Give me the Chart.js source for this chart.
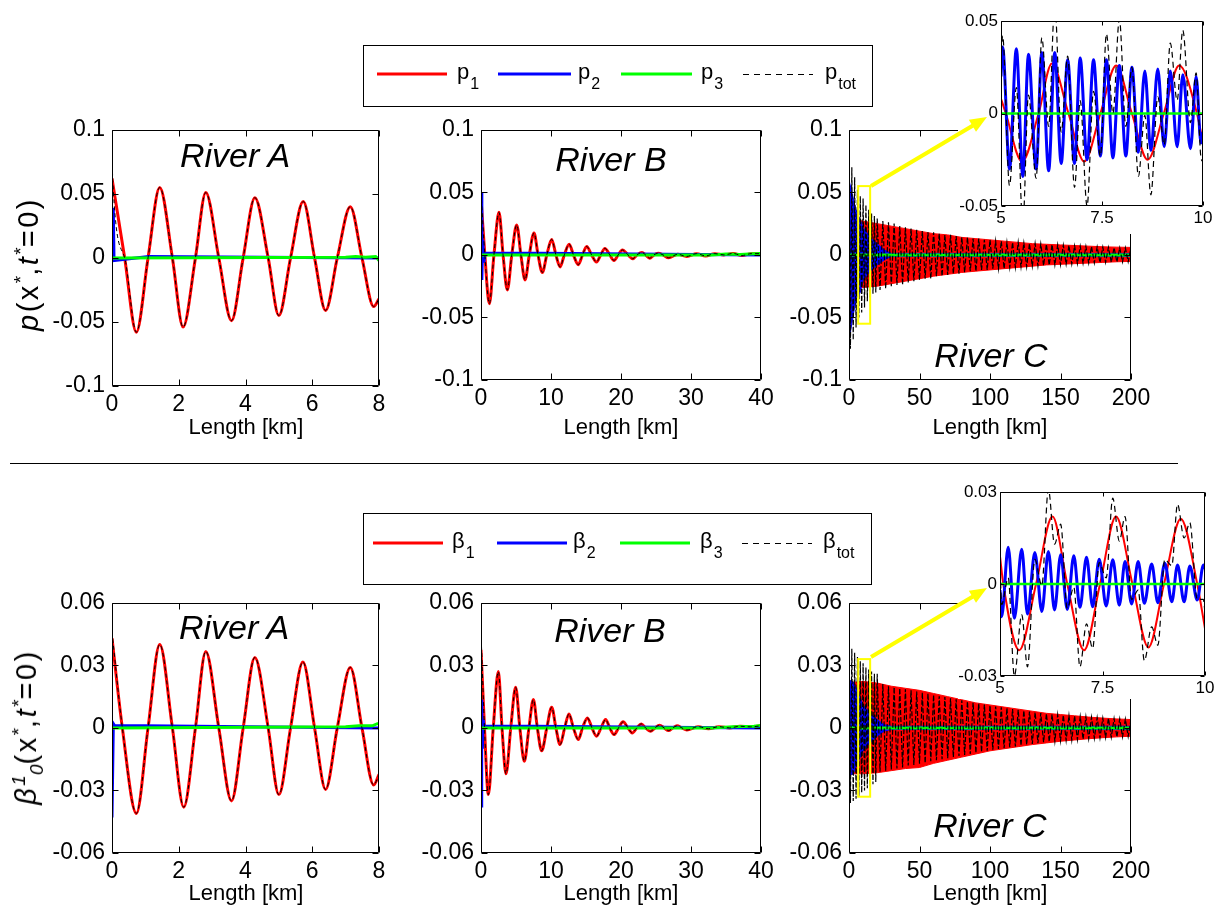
<!DOCTYPE html>
<html><head><meta charset="utf-8">
<script src="https://cdn.jsdelivr.net/npm/chart.js@4.4.1/dist/chart.umd.min.js"></script>
<style>
body{margin:0;background:#fff;}
#fig{position:relative;width:1223px;height:923px;overflow:hidden;background:#fff;font-family:'Liberation Sans',Arial,Helvetica,sans-serif;color:#000}
canvas{position:absolute}
.lab{position:absolute;transform:translate(-50%,-50%);white-space:nowrap;font-size:22px;line-height:22px;z-index:5}
.river{position:absolute;transform:translate(-50%,-50%);white-space:nowrap;font-size:34px;font-style:italic;line-height:34px;z-index:5}
.ytitle{position:absolute;transform:translate(-50%,-50%) rotate(-90deg);white-space:nowrap;font-size:29px;letter-spacing:2.5px;line-height:29px;z-index:5}
.ytitle .sup{position:relative;top:-11px;font-size:19px;letter-spacing:0}
.ytitle .sub{position:relative;top:7px;font-size:19px;letter-spacing:0}
.leg{position:absolute;font-size:22px;line-height:22px;white-space:nowrap;z-index:11}
.leg span{position:relative;font-size:16px;top:10px;margin-left:1px}
</style></head>
<body>
<div id="fig">
  <div class="ytitle" style="left:30px;top:264px"><i>p</i>(x<span class="sup">*</span>,<i>t</i><span class="sup">*</span>=0)</div>
  <div class="ytitle" style="left:28px;top:727px"><i>β</i><span class="sup"><i>1</i></span><span class="sub"><i>0</i></span>(x<span class="sup">*</span>,<i>t</i><span class="sup">*</span>=0)</div>

  <div class="lab" style="left:246px;top:427px">Length [km]</div>
  <div class="lab" style="left:621px;top:427px">Length [km]</div>
  <div class="lab" style="left:990px;top:427px">Length [km]</div>
  <div class="lab" style="left:246px;top:893px">Length [km]</div>
  <div class="lab" style="left:621px;top:893px">Length [km]</div>
  <div class="lab" style="left:990px;top:893px">Length [km]</div>

  <div class="river" style="left:235px;top:155px">River A</div>
  <div class="river" style="left:611px;top:159px">River B</div>
  <div class="river" style="left:991px;top:355px">River C</div>
  <div class="river" style="left:234px;top:627px">River A</div>
  <div class="river" style="left:610px;top:630px">River B</div>
  <div class="river" style="left:990px;top:825px">River C</div>

  <div class="leg" style="left:457px;top:61px">p<span>1</span></div>
  <div class="leg" style="left:578px;top:61px">p<span>2</span></div>
  <div class="leg" style="left:701px;top:61px">p<span>3</span></div>
  <div class="leg" style="left:825px;top:61px">p<span>tot</span></div>
  <div class="leg" style="left:452px;top:530px">β<span>1</span></div>
  <div class="leg" style="left:573px;top:530px">β<span>2</span></div>
  <div class="leg" style="left:700px;top:530px">β<span>3</span></div>
  <div class="leg" style="left:823px;top:530px">β<span>tot</span></div>

  <svg width="1223" height="923" style="position:absolute;left:0;top:0;z-index:10;pointer-events:none">
    <line x1="10" y1="463.5" x2="1178" y2="463.5" stroke="#000" stroke-width="1"/>
    <rect x="363.5" y="45.5" width="509" height="61" fill="none" stroke="#000" stroke-width="1"/>
    <line x1="377" y1="74" x2="447" y2="74" stroke="#ff0000" stroke-width="3"/>
    <line x1="498" y1="74" x2="571" y2="74" stroke="#0000ff" stroke-width="3"/>
    <line x1="621" y1="74" x2="692" y2="74" stroke="#00ff00" stroke-width="3"/>
    <line x1="743" y1="74.5" x2="813" y2="74.5" stroke="#000" stroke-width="1" stroke-dasharray="6,5"/>
    <rect x="363.5" y="513.5" width="508" height="71" fill="none" stroke="#000" stroke-width="1"/>
    <line x1="373" y1="543" x2="443" y2="543" stroke="#ff0000" stroke-width="3"/>
    <line x1="497" y1="543" x2="567" y2="543" stroke="#0000ff" stroke-width="3"/>
    <line x1="620" y1="543" x2="690" y2="543" stroke="#00ff00" stroke-width="3"/>
    <line x1="742" y1="543.5" x2="812" y2="543.5" stroke="#000" stroke-width="1" stroke-dasharray="6,5"/>
    <line x1="871" y1="186" x2="973" y2="125.5" stroke="#ffff00" stroke-width="4"/>
    <polygon points="987,117 976,131.7 968.8,119.7" fill="#ffff00"/>
    <line x1="871" y1="657" x2="973" y2="596.5" stroke="#ffff00" stroke-width="4"/>
    <polygon points="987,588 976,602.7 968.8,590.7" fill="#ffff00"/>
  </svg>
</div>
<script>
// ================= DATA =================
// tick values / labels
const yTicksP = [-0.1, -0.05, 0, 0.05, 0.1];
const yLabelsP = ['-0.1', '-0.05', '0', '0.05', '0.1'];
const yTicksB = [-0.06, -0.03, 0, 0.03, 0.06];
const yLabelsB = ['-0.06', '-0.03', '0', '0.03', '0.06'];
const xTicksA = [0, 2, 4, 6, 8];
const xTicksB = [0, 10, 20, 30, 40];
const xTicksC = [0, 50, 100, 150, 200];
const xTicksZoom = [5, 7.5, 10];
const yTicksZoomP = [-0.05, 0, 0.05];
const yLabelsZoomP = ['-0.05', '0', '0.05'];
const yTicksZoomB = [-0.03, 0, 0.03];
const yLabelsZoomB = ['-0.03', '0', '0.03'];

// ---- p : River A ----
const kmA = [0,0.38,0.73,1.08,1.43,1.81,2.13,2.5,2.81,3.2,3.58,3.93,4.28,4.68,5.0,5.35,5.73,6.07,6.4,6.75,7.14,7.49,7.84,8.0];
const p1A = [0.062,0,-0.058,0,0.055,0,-0.054,0,0.051,0,-0.049,0,0.047,0,-0.045,0,0.044,0,-0.041,0,0.040,0,-0.038,-0.032];
const kmAtot = [0,0.02,0.38,0.73,1.08,1.43,1.81,2.13,2.5,2.81,3.2,3.58,3.93,4.28,4.68,5.0,5.35,5.73,6.07,6.4,6.75,7.14,7.49,7.84,8.0];
const ptotA = [0.095,0.062,0,-0.058,0,0.055,0,-0.054,0,0.051,0,-0.049,0,0.047,0,-0.045,0,0.044,0,-0.041,0,0.040,0,-0.038,-0.032];
const kmA2 = [0,0.04,0.06,1.1,8];
const p2A = [0.038,0.038,-0.002,0.001,0];
const kmA3 = [0,7.0,7.3,7.6,7.9,8.0];
const p3A = [0,0.0005,0.001,0.0005,0.001,-0.002];

// ---- p : River B ----
const kmB = [0,0.55,1.19,1.85,2.57,3.15,3.76,4.4,5.1,5.7,6.29,6.9,7.57,8.15,8.76,9.4,10.1,10.7,11.3,11.9,12.6,13.2,13.9,14.5,15.1,15.8,16.5,17.1,17.7,18.4,19.0,19.6,20.2,21.0,21.7,22.3,23.0,23.5,24.1,24.7,25.3,26.0,26.8,28.1,29.4,30.8,32.1,33.4,34.7,36.0,37.3,38.6,40];
const p1B = [0.045,0,-0.039,0,0.034,0,-0.028,0,0.024,0,-0.020,0,0.0176,0,-0.014,0,0.0124,0,-0.0096,0,0.0085,0,-0.0078,0,0.0067,0,-0.0057,0,0.0052,0,-0.0044,0,0.0039,0,-0.0031,0,0.002,0,-0.0026,0,0.0013,0,-0.0023,0.0005,-0.0012,0.001,-0.0008,0.001,0,0.0012,-0.0005,0.001,0.001];
const ptotB = [0.05,0,-0.039,0,0.034,0,-0.028,0,0.024,0,-0.020,0,0.0176,0,-0.014,0,0.0124,0,-0.0096,0,0.0085,0,-0.0078,0,0.0067,0,-0.0057,0,0.0052,0,-0.0044,0,0.0039,0,-0.0031,0,0.002,0,-0.0026,0,0.0013,0,-0.0023,0.0005,-0.0012,0.001,-0.0008,0.001,0,0.0012,-0.0005,0.001,0.001];
const kmB2 = [0,0.12,0.25,0.4,0.6,8.5,40];
const p2B = [0.05,-0.02,0.012,-0.006,0.0013,0.0013,0];
const kmB3 = [0,33,35,37,39,40];
const p3B = [0,0,0.0008,0.0004,0.001,0.0012];

// ---- p : River C (envelopes of the dense oscillation) ----
const kmCenv = [0,5,10,20,30,40,50,60,70,80,90,100,110,120,130,140,150,160,170,180,190,200];
const p1C_hi = [0.028,0.028,0.027,0.025,0.023,0.021,0.019,0.017,0.016,0.014,0.013,0.012,0.011,0.010,0.009,0.0085,0.008,0.0075,0.007,0.0065,0.0062,0.006];
const p1C_lo = [-0.027,-0.027,-0.026,-0.025,-0.023,-0.021,-0.019,-0.017,-0.0155,-0.014,-0.013,-0.012,-0.011,-0.010,-0.009,-0.008,-0.0075,-0.007,-0.0065,-0.006,-0.0055,-0.0052];
const kmCblue = [0,2,5,8,10,15,20,25,30,200];
const p2C_hi = [0.06,0.05,0.036,0.028,0.022,0.014,0.009,0.004,0.0012,0.0012];
const p2C_lo = [-0.068,-0.055,-0.035,-0.03,-0.02,-0.013,-0.008,-0.004,-0.0012,-0.0012];
const kmC3 = [0,200];
const p3C = [0,0];
const kmCtot = [0,1,2,3,4,5,6,7,8,9,10,11,12,13,14,15,16,17,18,19,20,22,24,26,28,30,32,34,36,38,40,42,44,46,48,50,52,54,56,58,60,62,64,66,68,70,72,74,76,78,80,82,84,86,88,90,92,94,96,98,100,102,104,106,108,110,112,114,116,118,120,122,124,126,128,130,132,134,136,138,140,142,144,146,148,150,152,154,156,158,160,162,164,166,168,170,172,174,176,178,180,182,184,186,188,190,192,194,196,198,200];
const ptotC = [0.083,-0.075,0.07,-0.068,0.062,-0.058,0.052,-0.05,0.047,-0.046,0.045,-0.042,0.04,-0.037,0.036,-0.034,0.033,-0.031,0.031,-0.03,0.029,
  -0.028,0.027,-0.027,0.026,-0.025,0.025,-0.024,0.023,-0.024,0.022,
  -0.022,0.021,-0.021,0.02,-0.02,0.019,-0.019,0.018,-0.019,0.018,
  -0.017,0.017,-0.017,0.016,-0.016,0.016,-0.015,0.015,-0.015,0.014,
  -0.014,0.014,-0.013,0.013,-0.013,0.013,-0.012,0.012,-0.012,0.012,
  -0.011,0.011,-0.011,0.011,-0.011,0.010,-0.010,0.010,-0.010,0.010,
  -0.0095,0.0095,-0.0095,0.009,-0.009,0.009,-0.0088,0.0088,-0.0085,0.0085,
  -0.0082,0.0082,-0.008,0.008,-0.0078,0.0078,-0.0075,0.0075,-0.0073,0.0073,
  -0.007,0.007,-0.0068,0.0068,-0.0066,0.0066,-0.0064,0.0064,-0.0062,0.0062,
  -0.006,0.006,-0.0058,0.0058,-0.0057,0.0057,-0.0056,0.0056,-0.0055,0.0055];

// ---- p : zoom 5-10 km of River C ----
const kmZp1 = [5.0,5.12,5.52,5.93,6.26,6.67,7.06,7.46,7.85,8.24,8.63,9.03,9.41,9.85,10.0];
const p1Z = [0.008,0,-0.026,0,0.027,0,-0.026,0,0.026,0,-0.025,0,0.026,0,-0.016];
const kmZp2 = [5.0,5.04,5.21,5.38,5.54,5.68,5.87,6.01,6.18,6.33,6.49,6.65,6.82,6.96,7.13,7.29,7.46,7.61,7.77,7.93,8.09,8.24,8.40,8.56,8.71,8.88,9.04,9.19,9.36,9.50,9.69,9.83,9.95,10.0];
const p2Z = [0.02,0.036,-0.030,0.035,-0.034,0.032,-0.030,0.033,-0.031,0.033,-0.027,0.029,-0.027,0.030,-0.025,0.029,-0.023,0.029,-0.024,0.026,-0.023,0.025,-0.021,0.023,-0.020,0.024,-0.018,0.023,-0.018,0.021,-0.019,0.020,-0.016,-0.01];
const ptotZ = [0.028,0.042,-0.039,0.014,-0.060,0.010,-0.035,0.041,-0.007,0.059,-0.010,0.031,-0.040,0.007,-0.050,0.012,-0.023,0.043,0.000,0.051,-0.007,0.025,-0.034,-0.001,-0.044,0.009,-0.017,0.038,0.007,0.045,-0.005,0.022,-0.024,-0.026];
const kmZ3 = [5,10];
const p3Z = [0,0];

// ---- beta : River A ----
const kmbA = [0,0.31,0.73,1.08,1.43,1.81,2.15,2.5,2.81,3.2,3.58,3.93,4.28,4.68,5.0,5.35,5.72,6.07,6.4,6.75,7.14,7.49,7.84,8.0];
const b1A = [0.043,0,-0.041,0,0.040,0,-0.038,0,0.0367,0,-0.035,0,0.0338,0,-0.032,0,0.0316,0,-0.0295,0,0.029,0,-0.0274,-0.0223];
const kmbAtot = [0,0.02,0.31,0.73,1.08,1.43,1.81,2.15,2.5,2.81,3.2,3.58,3.93,4.28,4.68,5.0,5.35,5.72,6.07,6.4,6.75,7.14,7.49,7.84,8.0];
const btotA = [0.046,0.043,0,-0.041,0,0.040,0,-0.038,0,0.0367,0,-0.035,0,0.0338,0,-0.032,0,0.0316,0,-0.0295,0,0.029,0,-0.0274,-0.0223];
const kmbA2 = [0,0.04,0.08,0.98,8];
const b2A = [-0.043,0.002,0.001,0.001,0];
const kmbA3 = [0,7.0,7.4,7.8,7.95,8];
const b3A = [0,0.0005,0.001,0.001,0.002,0.002];

// ---- beta : River B ----
const kmbB = [0,0.5,1.05,1.75,2.48,3.0,3.57,4.25,4.95,5.55,6.19,6.85,7.48,8.05,8.67,9.4,10.1,10.7,11.3,11.95,12.57,13.2,13.9,14.5,15.2,15.85,16.5,17.15,17.8,18.4,19.0,19.65,20.3,21.0,21.6,22.25,22.9,23.5,24.2,24.85,25.5,26.15,26.8,27.4,28.0,28.7,29.4,31,32.5,34,35.5,37,38.5,40];
const b1B = [0.0375,0,-0.032,0,0.027,0,-0.022,0,0.0195,0,-0.016,0,0.0136,0,-0.011,0,0.0099,0,-0.008,0,0.0067,0,-0.0056,0,0.0048,0,-0.004,0,0.004,0,-0.0032,0,0.0029,0,-0.0024,0,0.0019,0,-0.0016,0,0.0013,0,-0.0013,0,0.001,0,-0.001,0.0006,-0.0004,0.0006,0,0.0008,0.0005,0.001];
const btotB = [0.046,0,-0.032,0,0.027,0,-0.022,0,0.0195,0,-0.016,0,0.0136,0,-0.011,0,0.0099,0,-0.008,0,0.0067,0,-0.0056,0,0.0048,0,-0.004,0,0.004,0,-0.0032,0,0.0029,0,-0.0024,0,0.0019,0,-0.0016,0,0.0013,0,-0.0013,0,0.001,0,-0.001,0.0006,-0.0004,0.0006,0,0.0008,0.0005,0.001];
const kmbB2 = [0,0.1,0.2,0.3,0.45,7.5,40];
const b2B = [-0.0375,0.0136,-0.01,0.004,0.0008,0.0008,0];
const kmbB3 = [0,33,36,39,40];
const b3B = [0,0,0.0006,0.0008,0.0012];

// ---- beta : River C ----
const b1C_hi = [0.022,0.022,0.0223,0.0215,0.020,0.019,0.018,0.0165,0.015,0.0135,0.012,0.011,0.010,0.009,0.008,0.007,0.0064,0.0058,0.0052,0.0047,0.0043,0.004];
const b1C_lo = [-0.022,-0.022,-0.022,-0.0215,-0.0205,-0.0195,-0.019,-0.017,-0.0155,-0.014,-0.0125,-0.011,-0.010,-0.009,-0.008,-0.0072,-0.0064,-0.0058,-0.0052,-0.0047,-0.0043,-0.004];
const kmbCblue = [0,3,6,10,15,20,25,30,200];
const b2C_hi = [0.023,0.022,0.018,0.011,0.007,0.004,0.0015,0.0008,0.0008];
const b2C_lo = [-0.023,-0.022,-0.017,-0.011,-0.007,-0.004,-0.0015,-0.0008,-0.0008];
const b3C = [0,0];
const btotC = [0.04,-0.036,0.038,-0.035,0.036,-0.034,0.034,-0.033,0.032,-0.031,0.031,-0.03,0.029,-0.029,0.028,-0.028,0.027,-0.027,0.026,-0.026,0.026,
  -0.021,0.021,-0.0205,0.020,-0.020,0.0195,-0.0195,0.019,-0.019,0.0185,
  -0.018,0.018,-0.0178,0.0175,-0.0172,0.017,-0.0168,0.0165,-0.016,0.0158,
  -0.0155,0.0152,-0.015,0.0148,-0.0145,0.0142,-0.014,0.0137,-0.0135,0.0132,
  -0.013,0.0127,-0.0125,0.0122,-0.012,0.0117,-0.0115,0.0112,-0.011,0.0107,
  -0.0105,0.0103,-0.0101,0.0099,-0.0097,0.0095,-0.0093,0.0091,-0.0089,0.0087,
  -0.0085,0.0083,-0.0081,0.0079,-0.0077,0.0075,-0.0073,0.0071,-0.0069,0.0068,
  -0.0066,0.0065,-0.0064,0.0063,-0.0062,0.0061,-0.006,0.0059,-0.0058,0.0057,
  -0.0056,0.0055,-0.0054,0.0053,-0.0052,0.0051,-0.005,0.0049,-0.0048,0.0047,
  -0.0046,0.0046,-0.0045,0.0045,-0.0044,0.0043,-0.0043,0.0042,-0.0041,0.0040];

// ---- beta : zoom 5-10 km of River C ----
const kmZb1 = [5.0,5.08,5.47,5.88,6.28,6.64,7.05,7.44,7.83,8.23,8.62,9.0,9.41,9.81,10.0];
const b1Z = [0.009,0,-0.0216,0,0.022,0,-0.0216,0,0.022,0,-0.0207,0,0.0213,0,-0.0145];
const kmZb2 = [5.0,5.04,5.20,5.35,5.53,5.67,5.85,6.02,6.18,6.33,6.48,6.64,6.80,6.95,7.11,7.26,7.42,7.59,7.75,7.91,8.05,8.21,8.37,8.52,8.70,8.85,9.02,9.19,9.33,9.49,9.63,9.81,9.96,10.0];
const b2Z = [-0.002,-0.0107,0.012,-0.0112,0.0113,-0.0098,0.0103,-0.009,0.0106,-0.0085,0.0095,-0.0083,0.0092,-0.0076,0.0087,-0.0074,0.0081,-0.0072,0.0079,-0.0069,0.0073,-0.0065,0.0073,-0.0063,0.0065,-0.0061,0.0068,-0.0058,0.0062,-0.0058,0.0059,-0.0052,0.0062,0.005];
const btotZ = [0.007,-0.0067,0.002,-0.030,-0.010,-0.027,0.008,-0.0005,0.031,0.013,0.0195,-0.008,-0.001,-0.027,-0.013,-0.021,0.007,0.002,0.028,0.014,0.022,-0.005,-0.002,-0.025,-0.014,-0.020,0.008,0.006,0.026,0.015,0.020,-0.005,-0.005,-0.0095];
const b3Z = [0,0];

// ================= DRAWING =================
Chart.defaults.font.family = "'Liberation Sans', Arial, Helvetica, sans-serif";
Chart.defaults.color = '#000';
const RED = '#ff0000', BLUE = '#0000ff', GREEN = '#00ff00', BLACK = '#000000', YELLOW = '#ffff00';
const fig = document.getElementById('fig');

const matlabFrame = {
  id: 'matlabFrame',
  beforeDraw(chart, args, opts) {
    if (opts.bg) {
      const c = chart.ctx; c.save(); c.fillStyle = opts.bg; c.fillRect(0, 0, chart.width, chart.height); c.restore();
    }
  },
  afterDatasetsDraw(chart, args, opts) {
    const c = chart.ctx, a = chart.chartArea, xs = chart.scales.x, ys = chart.scales.y;
    c.save();
    if (opts.box) {
      const b = opts.box;
      const x0 = xs.getPixelForValue(b.x0), x1 = xs.getPixelForValue(b.x1);
      const y0 = ys.getPixelForValue(b.y1), y1 = ys.getPixelForValue(b.y0);
      c.strokeStyle = YELLOW; c.lineWidth = 2;
      c.strokeRect(x0, y0, x1 - x0, y1 - y0);
    }
    const L = Math.round(a.left) + 0.5, R = Math.round(a.right) - 0.5;
    const T = Math.round(a.top) + 0.5, B = Math.round(a.bottom) - 0.5;
    const tl = opts.tick || 6;
    c.strokeStyle = '#000'; c.lineWidth = 1;
    c.beginPath();
    xs.ticks.forEach(t => {
      const p = Math.round(xs.getPixelForValue(t.value)) + 0.5;
      c.moveTo(p, B); c.lineTo(p, B - tl); c.moveTo(p, T); c.lineTo(p, T + tl);
    });
    ys.ticks.forEach(t => {
      const p = Math.round(ys.getPixelForValue(t.value)) + 0.5;
      c.moveTo(L, p); c.lineTo(L + tl, p); c.moveTo(R, p); c.lineTo(R - tl, p);
    });
    c.rect(L, T, R - L, B - T);
    c.stroke();
    c.restore();
  }
};

function ds(xs, ys, color, width, order, extra) {
  return Object.assign({
    data: xs.map((x, i) => ({ x: x, y: ys[i] })),
    borderColor: color, backgroundColor: color, borderWidth: width,
    pointRadius: 0, fill: false, order: order, tension: 0
  }, extra || {});
}
const SM = { cubicInterpolationMode: 'monotone' };
const DASH = { cubicInterpolationMode: 'monotone', borderDash: [4, 3] };
const HATCH = { borderDash: [5, 2] };

const MAIN = { yw: 75, pt: 20, pr: 30, xh: 40, fs: 23, xpad: 5, ypad: 7, tick: 6, z: 1 };
function panel(o) {
  const g = Object.assign({}, MAIN, o);
  const W = g.R - g.L + g.yw + g.pr, H = g.B - g.T + g.pt + g.xh;
  const cv = document.createElement('canvas');
  cv.width = W; cv.height = H;
  Object.assign(cv.style, { left: (g.L - g.yw) + 'px', top: (g.T - g.pt) + 'px', width: W + 'px', height: H + 'px', zIndex: String(g.z) });
  fig.appendChild(cv);
  return new Chart(cv.getContext('2d'), {
    type: 'line',
    data: { datasets: g.datasets },
    options: {
      responsive: false, animation: false, devicePixelRatio: 1, events: [],
      layout: { padding: { left: 0, top: g.pt, right: g.pr, bottom: 0 } },
      elements: { point: { radius: 0 } },
      plugins: { legend: { display: false }, tooltip: { enabled: false },
        matlabFrame: { bg: g.bg || null, box: g.box || null, tick: g.tick } },
      scales: {
        x: { type: 'linear', min: g.xMin, max: g.xMax,
          afterBuildTicks: s => { s.ticks = g.xTicks.map(v => ({ value: v })); },
          afterFit: s => { s.height = g.xh; },
          ticks: { autoSkip: false, maxRotation: 0, minRotation: 0, padding: g.xpad, color: '#000', font: { size: g.fs },
            callback: (v, i) => g.xLabels[i] },
          grid: { display: false, drawTicks: false }, border: { display: false } },
        y: { type: 'linear', min: g.yMin, max: g.yMax,
          afterBuildTicks: s => { s.ticks = g.yTicks.map(v => ({ value: v })); },
          afterFit: s => { s.width = g.yw; },
          ticks: { autoSkip: false, padding: g.ypad, color: '#000', font: { size: g.fs },
            callback: (v, i) => g.yLabels[i] },
          grid: { display: false, drawTicks: false }, border: { display: false } }
      }
    },
    plugins: [matlabFrame]
  });
}
const lbl = a => a.map(String);

// ---------- top row : p ----------
panel({ L: 112, T: 129, R: 379, B: 386, xMin: 0, xMax: 8, xTicks: xTicksA, xLabels: lbl(xTicksA),
  yMin: -0.1, yMax: 0.1, yTicks: yTicksP, yLabels: yLabelsP,
  datasets: [
    ds(kmA, p1A, RED, 3, 3, SM),
    ds(kmA2, p2A, BLUE, 3, 2),
    ds(kmA3, p3A, GREEN, 3, 1),
    ds(kmAtot, ptotA, BLACK, 1, 0, DASH)
  ] });
panel({ L: 481, T: 129, R: 761, B: 380, xMin: 0, xMax: 40, xTicks: xTicksB, xLabels: lbl(xTicksB),
  yMin: -0.1, yMax: 0.1, yTicks: yTicksP, yLabels: yLabelsP,
  datasets: [
    ds(kmB, p1B, RED, 3, 3, SM),
    ds(kmB2, p2B, BLUE, 3, 2),
    ds(kmB3, p3B, GREEN, 3, 1),
    ds(kmB, ptotB, BLACK, 1, 0, DASH)
  ] });
panel({ L: 849, T: 129, R: 1131, B: 380, xMin: 0, xMax: 200, xTicks: xTicksC, xLabels: lbl(xTicksC),
  yMin: -0.1, yMax: 0.1, yTicks: yTicksP, yLabels: yLabelsP,
  box: { x0: 6.5, x1: 15, y0: -0.055, y1: 0.055 },
  datasets: [
    ds(kmCenv, p1C_hi, RED, 1, 6, { fill: '+1' }),
    ds(kmCenv, p1C_lo, RED, 1, 5),
    ds(kmCblue, p2C_hi, BLUE, 1, 4, { fill: '+1' }),
    ds(kmCblue, p2C_lo, BLUE, 1, 3),
    ds(kmC3, p3C, GREEN, 3, 2),
    ds(kmCtot, ptotC, BLACK, 1.2, 1, HATCH)
  ] });
// inset p
panel({ L: 1001, T: 21, R: 1203, B: 206, yw: 43, pt: 21, pr: 20, xh: 28, fs: 17, xpad: 2, ypad: 3, tick: 4, z: 3, bg: '#ffffff',
  xMin: 5, xMax: 10, xTicks: xTicksZoom, xLabels: lbl(xTicksZoom),
  yMin: -0.05, yMax: 0.05, yTicks: yTicksZoomP, yLabels: yLabelsZoomP,
  datasets: [
    ds(kmZp1, p1Z, RED, 2, 3, SM),
    ds(kmZp2, p2Z, BLUE, 3, 2, SM),
    ds(kmZ3, p3Z, GREEN, 2.5, 1),
    ds(kmZp2, ptotZ, BLACK, 1.2, 0, { cubicInterpolationMode: 'monotone', borderDash: [6, 4] })
  ] });

// ---------- bottom row : beta ----------
panel({ L: 112, T: 602, R: 379, B: 853, xMin: 0, xMax: 8, xTicks: xTicksA, xLabels: lbl(xTicksA),
  yMin: -0.06, yMax: 0.06, yTicks: yTicksB, yLabels: yLabelsB,
  datasets: [
    ds(kmbA, b1A, RED, 3, 3, SM),
    ds(kmbA2, b2A, BLUE, 3, 2),
    ds(kmbA3, b3A, GREEN, 3, 1),
    ds(kmbAtot, btotA, BLACK, 1, 0, DASH)
  ] });
panel({ L: 481, T: 602, R: 761, B: 853, xMin: 0, xMax: 40, xTicks: xTicksB, xLabels: lbl(xTicksB),
  yMin: -0.06, yMax: 0.06, yTicks: yTicksB, yLabels: yLabelsB,
  datasets: [
    ds(kmbB, b1B, RED, 3, 3, SM),
    ds(kmbB2, b2B, BLUE, 3, 2),
    ds(kmbB3, b3B, GREEN, 3, 1),
    ds(kmbB, btotB, BLACK, 1, 0, DASH)
  ] });
panel({ L: 849, T: 602, R: 1131, B: 853, xMin: 0, xMax: 200, xTicks: xTicksC, xLabels: lbl(xTicksC),
  yMin: -0.06, yMax: 0.06, yTicks: yTicksB, yLabels: yLabelsB,
  box: { x0: 6.5, x1: 15, y0: -0.033, y1: 0.033 },
  datasets: [
    ds(kmCenv, b1C_hi, RED, 1, 6, { fill: '+1' }),
    ds(kmCenv, b1C_lo, RED, 1, 5),
    ds(kmbCblue, b2C_hi, BLUE, 1, 4, { fill: '+1' }),
    ds(kmbCblue, b2C_lo, BLUE, 1, 3),
    ds(kmC3, b3C, GREEN, 3, 2),
    ds(kmCtot, btotC, BLACK, 1.2, 1, HATCH)
  ] });
// inset beta
panel({ L: 1000, T: 492, R: 1205, B: 676, yw: 42, pt: 20, pr: 18, xh: 23, fs: 17, xpad: 2, ypad: 3, tick: 4, z: 3, bg: '#ffffff',
  xMin: 5, xMax: 10, xTicks: xTicksZoom, xLabels: lbl(xTicksZoom),
  yMin: -0.03, yMax: 0.03, yTicks: yTicksZoomB, yLabels: yLabelsZoomB,
  datasets: [
    ds(kmZb1, b1Z, RED, 2, 3, SM),
    ds(kmZb2, b2Z, BLUE, 3, 2, SM),
    ds(kmZ3, b3Z, GREEN, 2.5, 1),
    ds(kmZb2, btotZ, BLACK, 1.2, 0, { cubicInterpolationMode: 'monotone', borderDash: [6, 4] })
  ] });
</script>
</body></html>
